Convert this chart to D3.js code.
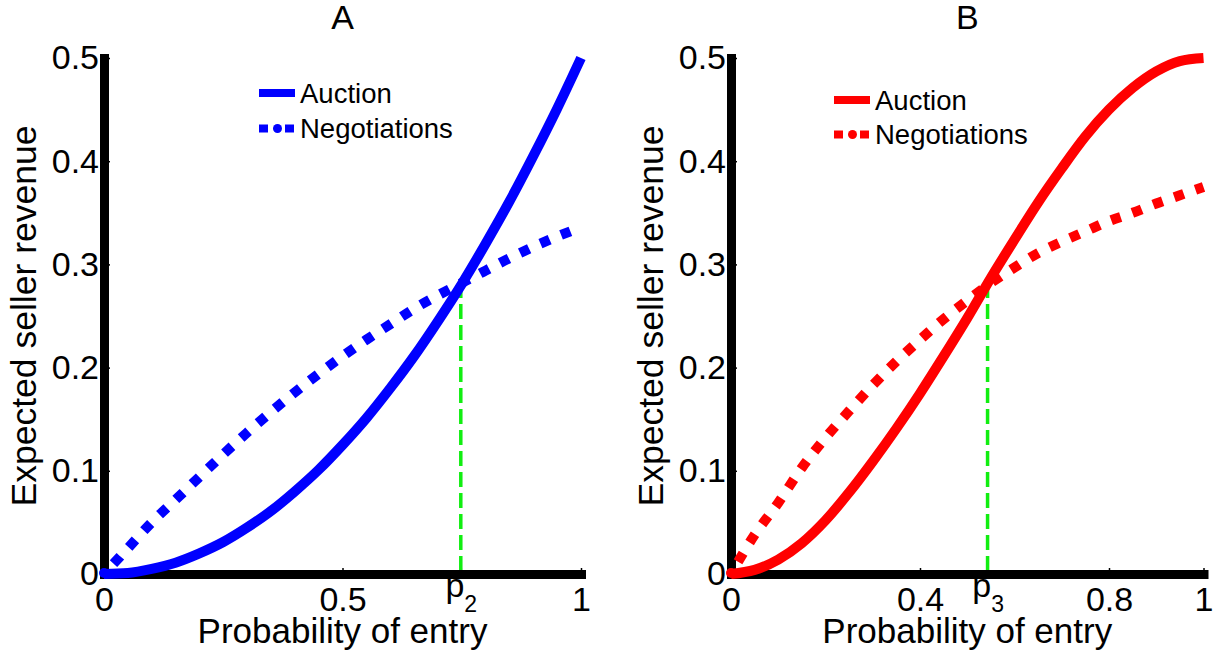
<!DOCTYPE html>
<html>
<head>
<meta charset="utf-8">
<script src="https://cdn.jsdelivr.net/npm/d3@7"></script>
<style>
  html, body { margin: 0; padding: 0; background: #ffffff; }
  svg { display: block; font-family: "Liberation Sans", Arial, Helvetica, sans-serif; }
</style>
</head>
<body>
<script>
// Probability of entry (x values shared by every curve)
const entryProb = [0, 0.05, 0.1, 0.15, 0.2, 0.25, 0.3, 0.35, 0.4, 0.45, 0.5,
                   0.55, 0.6, 0.65, 0.7, 0.75, 0.8, 0.85, 0.9, 0.95, 1];

// Panel A: expected seller revenue
const auctionA      = [0, 0.001, 0.005, 0.011, 0.02, 0.031, 0.045, 0.061, 0.08, 0.101, 0.125,
                       0.151, 0.18, 0.211, 0.245, 0.281, 0.32, 0.361, 0.405, 0.451, 0.5];
const negotiationsA = [0, 0.025, 0.05, 0.072, 0.094, 0.116, 0.137, 0.157, 0.176, 0.194, 0.211,
                       0.227, 0.242, 0.257, 0.27, 0.282, 0.294, 0.306, 0.317, 0.327, 0.336];

// Panel B: expected seller revenue
const auctionB      = [0, 0.004, 0.014, 0.03, 0.052, 0.079, 0.109, 0.141, 0.175, 0.211, 0.248,
                       0.287, 0.324, 0.36, 0.393, 0.424, 0.45, 0.471, 0.487, 0.497, 0.5];
const negotiationsB = [0, 0.038, 0.069, 0.103, 0.132, 0.158, 0.183, 0.206, 0.227, 0.247, 0.265,
                       0.282, 0.297, 0.311, 0.322, 0.332, 0.342, 0.35, 0.359, 0.367, 0.375];

// Crossing points [probability, revenue]
const crossingA = [0.748, 0.282];
const crossingB = [0.543, 0.282];

// Tick values and labels
const yTicks = [0, 0.1, 0.2, 0.3, 0.4, 0.5];
const xTicksA = [0, 0.5, 1];
const xTicksB = [0, 0.4, 0.8, 1];
const panelTitles = ["A", "B"];
const seriesNames = ["Auction", "Negotiations"];
const crossingSubscripts = ["2", "3"];
const xLabel = "Probability of entry";
const yLabel = "Expected seller revenue";

const W = 1225, H = 657;
const svg = d3.select("body").append("svg").attr("width", W).attr("height", H);

const panels = [
  { title: panelTitles[0], left: 104, right: 581, auction: auctionA, negotiations: negotiationsA,
    crossing: crossingA, xTicks: xTicksA, sub: crossingSubscripts[0], color: "#0000ff",
    legendX: 259, legendY: 93, legendGap: 35.5 },
  { title: panelTitles[1], left: 731, right: 1203.5, auction: auctionB, negotiations: negotiationsB,
    crossing: crossingB, xTicks: xTicksB, sub: crossingSubscripts[1], color: "#ff0000",
    legendX: 834, legendY: 100, legendGap: 34.5 }
];

const y = d3.scaleLinear().domain([0, 0.5]).range([574, 58]);
const fmt = d3.format("~g");

panels.forEach(p => {
  const x = d3.scaleLinear().domain([0, 1]).range([p.left, p.right]);
  const g = svg.append("g");

  // Axes: heavy black spines with short inward ticks
  const tickVals = p.xTicks.concat([p.crossing[0]]).sort((a, b) => a - b);
  const xAxis = d3.axisBottom(x).tickValues(tickVals).tickSize(-6).tickSizeOuter(0).tickPadding(13)
      .tickFormat(d => d === p.crossing[0] ? "" : fmt(d));
  const yAxis = d3.axisLeft(y).tickValues(yTicks).tickSize(-6).tickSizeOuter(0).tickPadding(5)
      .tickFormat(fmt);

  const gx = g.append("g").attr("transform", `translate(0,${y(0)})`).call(xAxis);
  const gy = g.append("g").attr("transform", `translate(${x(0)},0)`).call(yAxis);

  [gx, gy].forEach(a => {
    a.select(".domain").attr("stroke", "#000").attr("stroke-width", 9).attr("stroke-linecap", "square");
    a.selectAll(".tick line").attr("stroke", "#000").attr("stroke-width", 1.5);
    a.selectAll(".tick text").attr("fill", "#000").style("font-size", "34px")
      .style("font-family", "'Liberation Sans', Arial, sans-serif");
  });

  // Crossing label p with subscript
  gx.selectAll(".tick").filter(d => d === p.crossing[0]).select("text")
    .attr("dy", null).attr("y", 23)
    .call(t => {
      t.append("tspan").text("p");
      t.append("tspan").attr("dy", 15).style("font-size", "23px").text(p.sub);
    });

  // Vertical dashed marker at the crossing
  g.append("line")
    .attr("x1", x(p.crossing[0])).attr("x2", x(p.crossing[0]))
    .attr("y1", y(p.crossing[1])).attr("y2", y(0) - 4)
    .attr("stroke", "#11ee11").attr("stroke-width", 3.5).attr("stroke-dasharray", "15,6");

  const line = d3.line().x((d, i) => x(entryProb[i])).y(d => y(d)).curve(d3.curveMonotoneX);

  // Negotiations (dotted) and auction (solid)
  g.append("path").datum(p.negotiations).attr("d", line)
    .attr("fill", "none").attr("stroke", p.color).attr("stroke-width", 10)
    .attr("stroke-dasharray", "10,12.4").attr("stroke-dashoffset", -14);
  g.append("path").datum(p.auction).attr("d", line)
    .attr("fill", "none").attr("stroke", p.color).attr("stroke-width", 10)
    .attr("stroke-linecap", "butt");
  // rounded blob where the auction curve leaves the origin
  g.append("circle").attr("cx", x(entryProb[0])).attr("cy", y(p.auction[0]) - 1)
    .attr("r", 5).attr("fill", p.color);

  // Title
  g.append("text").attr("x", (p.left + p.right) / 2).attr("y", 29)
    .attr("text-anchor", "middle").style("font-size", "34px").text(p.title);

  // Axis labels
  g.append("text").attr("x", (p.left + p.right) / 2).attr("y", 643)
    .attr("text-anchor", "middle").style("font-size", "35px").text(xLabel);
  g.append("text").attr("transform", `translate(${p.left - 68},${(y(0) + y(0.5)) / 2}) rotate(-90)`)
    .attr("text-anchor", "middle").style("font-size", "35.5px").text(yLabel);

  // Legend
  const lg = g.append("g");
  lg.append("line").attr("x1", p.legendX).attr("x2", p.legendX + 36)
    .attr("y1", p.legendY).attr("y2", p.legendY)
    .attr("stroke", p.color).attr("stroke-width", 8);
  const ny = p.legendY + p.legendGap;
  lg.append("rect").attr("x", p.legendX).attr("y", ny - 4).attr("width", 9).attr("height", 8).attr("fill", p.color);
  lg.append("circle").attr("cx", p.legendX + 18.5).attr("cy", ny).attr("r", 4.5).attr("fill", p.color);
  lg.append("rect").attr("x", p.legendX + 26).attr("y", ny - 4).attr("width", 9).attr("height", 8).attr("fill", p.color);
  lg.append("text").attr("x", p.legendX + 41).attr("y", p.legendY + 10)
    .style("font-size", "27.5px").text(seriesNames[0]);
  lg.append("text").attr("x", p.legendX + 41).attr("y", ny + 9.5)
    .style("font-size", "27.5px").text(seriesNames[1]);
});
</script>
</body>
</html>
